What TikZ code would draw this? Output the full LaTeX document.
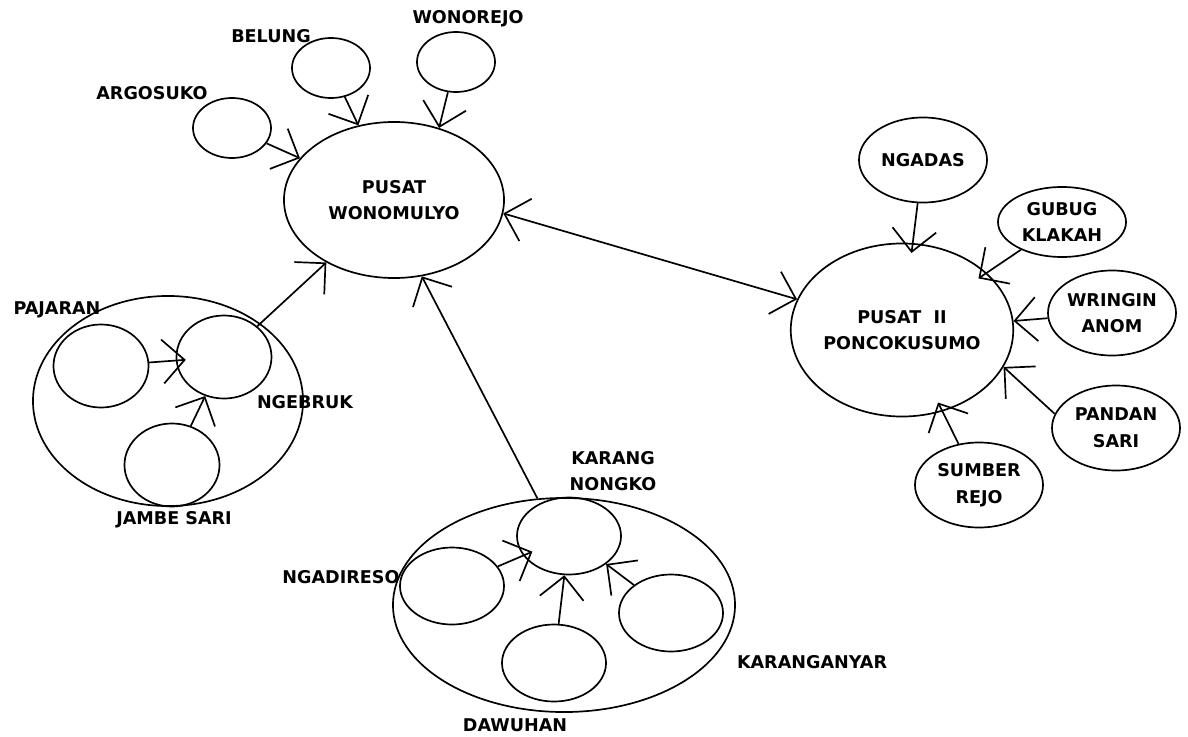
\documentclass[tikz,border=0pt]{standalone}
\usepackage{fontspec}
\setmainfont{DejaVu Sans}
\usepackage{tikz}
\usetikzlibrary{shapes.geometric, arrows.meta}
\tikzset{
  barb/.tip={Straight Barb[length=5.5mm, width=11mm]},
  bubble/.style={draw, ellipse, line width=1.2pt, inner sep=0pt, align=center,
    font=\bfseries\fontsize{12.5}{19}\selectfont},
  topsat/.style={bubble, minimum width=1.95cm, minimum height=1.5cm},
  midsat/.style={bubble, minimum width=2.375cm, minimum height=2.075cm},
  knsat/.style={bubble, minimum width=2.6cm, minimum height=1.925cm},
  rsat/.style={bubble, minimum width=3.2cm, minimum height=2.125cm},
  hub/.style={bubble, minimum width=5.5cm, minimum height=3.9cm},
  lbl/.style={font=\bfseries\fontsize{12.5}{19}\selectfont, align=center},
  link/.style={line width=1.2pt, -barb},
  deepLink/.style={link, shorten >=-2.5mm},
  biLink/.style={line width=1.2pt, barb-barb},
}

\begin{document}
\begin{tikzpicture}[x=0.025cm, y=-0.025cm]
  \useasboundingbox (0,0) rectangle (1188,736);
  % pusat wonomulyo and its villages
  \node[hub] (pw) at (394,200) {PUSAT\\WONOMULYO};
  \node[topsat] (argosuko) at (232,128) {};
  \node[topsat] (belung) at (331,68) {};
  \node[topsat] (wonorejo) at (456,62) {};
  \node[lbl] (argosukoLbl) at (152,93) {ARGOSUKO};
  \node[lbl] (belungLbl) at (271,36) {BELUNG};
  \node[lbl] (wonorejoLbl) at (468,19) {WONOREJO};

  % left group
  \node[bubble, minimum width=6.75cm, minimum height=5.25cm] (leftgrp) at (168,401) {};
  \node[midsat] (pajaran) at (101,366) {};
  \node[midsat] (ngebruk) at (224,357) {};
  \node[midsat] (jambe) at (172,465) {};
  \node[lbl] (pajaranLbl) at (57,310) {PAJARAN};
  \node[lbl] (ngebrukLbl) at (305,402) {NGEBRUK};
  \node[lbl] (jambeLbl) at (174,520) {JAMBE SARI};

  % karang nongko group
  \node[bubble, minimum width=8.55cm, minimum height=5.35cm] (kngrp) at (564,605) {};
  \node[knsat] (karang) at (569,536) {};
  \node[knsat] (ngadireso) at (452,586) {};
  \node[knsat] (dawuhan) at (554,663) {};
  \node[knsat] (karanganyar) at (671,613) {};
  \node[lbl] (karangLbl) at (613,471) {KARANG\\NONGKO};
  \node[lbl] (ngadiresoLbl) at (341,577) {NGADIRESO};
  \node[lbl] (dawuhanLbl) at (515,725) {DAWUHAN};
  \node[lbl] (karanganyarLbl) at (812,662) {KARANGANYAR};

  % pusat II
  \node[bubble, minimum width=5.4cm, minimum height=4.325cm] (p2) at (902,330) {PUSAT~~II\\PONCOKUSUMO};
  \node[rsat] (ngadas) at (923,160) {NGADAS};
  \node[rsat, minimum height=1.75cm] (gubug) at (1062,222) {GUBUG\\KLAKAH};
  \node[rsat] (wringin) at (1112,313) {WRINGIN\\ANOM};
  \node[rsat] (pandan) at (1116,428) {PANDAN\\SARI};
  \node[rsat] (sumber) at (979,485) {SUMBER\\REJO};

  % arrows
  \draw[link] (argosuko) -- (pw);
  \draw[link] (belung) -- (pw);
  \draw[link] (wonorejo.-105) -- (pw.58);
  \draw[deepLink] (pajaran) -- (ngebruk);
  \draw[link] (jambe) -- (ngebruk);
  \draw[link] (ngebruk) -- (pw);
  \draw[deepLink] (ngadireso) -- (karang);
  \draw[link] (dawuhan) -- (karang);
  \draw[link] (karanganyar) -- (karang);
  \draw[link] (kngrp.104) -- (pw.-70);
  \draw[biLink] (pw.-7) -- (p2);
  \foreach \v in {ngadas, gubug, sumber}
    \draw[deepLink] (\v) -- (p2);
  \draw[link] (wringin) -- (p2);
  \draw[link] (pandan.167) -- (p2.-20);
\end{tikzpicture}
\end{document}
